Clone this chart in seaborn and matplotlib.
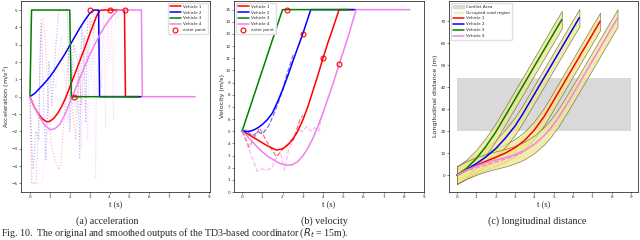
import matplotlib
matplotlib.use('Agg')
import matplotlib.pyplot as plt
import seaborn as sns
from matplotlib.patches import Patch
from matplotlib.lines import Line2D

sns.set_theme(style='white')
plt.rcParams['font.family'] = ['DejaVu Sans']

# ---------------- data ----------------
vehicles = ['Vehicle 1', 'Vehicle 2', 'Vehicle 3', 'Vehicle 4']
colors = ['red', 'blue', 'green', 'violet']

# (a) smoothed acceleration
acc_t1 = [0, 0.2, 0.4, 0.6, 0.84, 1.0, 1.2, 1.4, 1.6, 1.8, 2.0, 2.2, 2.4, 2.6, 2.8, 3.0, 3.2, 3.35, 3.5, 3.6, 4.75, 4.8, 5.5]
acc_a1 = [0, -0.55, -0.95, -1.25, -1.45, -1.42, -1.25, -0.95, -0.55, -0.05, 0.55, 1.15, 1.75, 2.35, 2.95, 3.6, 4.2, 4.65, 4.95, 5.0, 5.0, 0, 0]
acc_t2 = [0, 0.25, 0.5, 0.75, 1.0, 1.25, 1.5, 1.75, 2.0, 2.25, 2.5, 2.75, 3.0, 3.2, 3.45, 3.5, 5.6]
acc_a2 = [0, 0.2, 0.5, 0.8, 1.15, 1.55, 2.0, 2.45, 2.95, 3.45, 3.95, 4.4, 4.8, 5.0, 5.0, 0, 0]
acc_t3 = [0, 0.08, 2.0, 2.08, 2.2, 5.45]
acc_a3 = [0, 5.0, 5.0, -0.1, 0, 0]
acc_t4 = [0, 0.25, 0.5, 0.75, 1.0, 1.25, 1.5, 1.75, 2.0, 2.25, 2.5, 2.75, 3.0, 3.25, 3.5, 3.75, 4.0, 4.25, 4.45, 5.6, 5.65, 8.3]
acc_a4 = [0, -0.65, -1.2, -1.65, -1.9, -1.85, -1.6, -1.05, -0.35, 0.35, 1.05, 1.75, 2.4, 3.0, 3.55, 4.05, 4.45, 4.8, 5.0, 5.0, 0, 0]

# (a) original acceleration outputs
raw_t1 = [0, 0.05, 0.1, 0.3, 0.45, 0.55, 0.65, 0.75, 0.85, 0.95, 1.1, 1.3, 1.45, 1.55, 1.7, 1.85,
          1.95, 2.05, 2.15, 2.3, 2.45, 2.6, 2.75, 2.9, 3.05, 3.2, 3.35, 3.5]
raw_a1 = [0, -3, -5, -5, -1, 4.4, 4.5, 3.5, 1.5, -1, -3, -3.8, -4.2, -3.9, -1.5, 1,
          2.8, 2.5, -1, -2.5, 1.5, -0.5, 3.5, 2, 4.5, 3.8, 4.9, 5]
raw_t2 = [0, 0.1, 0.17, 0.3, 0.45, 0.5, 0.58, 0.7, 0.8, 0.85, 0.95, 1.0, 1.1, 1.3, 1.45, 1.55,
          1.7, 1.8, 1.9, 2.0, 2.2, 2.4, 2.5, 2.6, 2.7, 2.8, 2.9, 3.0]
raw_a2 = [0, -3, -4.2, -2, -2.5, 2, 4.2, -1, -3.7, -2, 2.0, 1.5, -0.5, 3, 5, 5,
          5, 5, 4.8, -2, 3, 2, -3.5, 4, 3, -1.5, 4.5, 5]
raw_t4 = [0, 0.1, 0.6, 0.7, 0.85, 1.0, 1.15, 1.3, 1.45, 1.6, 1.75, 1.9, 2.05, 2.2, 2.35, 2.5, 2.6,
          2.7, 2.8, 2.9, 3.0, 3.1, 3.2, 3.3, 3.4, 3.5, 3.6, 3.7, 3.8, 3.9, 4.0, 4.1, 4.2, 4.3, 4.4, 4.5]
raw_a4 = [0, -5, -5, -4, -1.5, 1.0, 1.3, 0.5, 2.5, 3.5, 1.0, -1.5, 0.5, 2.0, -1.0, 2.5, -3.0,
          3.5, 0.5, -2.5, 4.5, 1.0, 5.0, -4.7, 4.0, 5.0, 0.5, 5.0, -1.8, 5.0, 2.0, 5.0, -1.3, 5.0, 4.5, 5.0]

# enter points
enter_t = [2.2, 3.0, 4.0, 4.8]
enter_acc = [0, 5, 5, 5]
enter_vel = [15, 13, 11, 10.5]

# (b) smoothed velocity
vel_t1 = [0, 0.25, 0.5, 0.75, 1.0, 1.25, 1.5, 1.7, 2.0, 2.25, 2.5, 2.75, 3.0, 3.25, 3.5, 3.75, 4.0, 4.25, 4.5, 4.8, 5.5]
vel_v1 = [5, 4.8, 4.55, 4.3, 4.05, 3.8, 3.6, 3.45, 3.55, 3.85, 4.3, 5.0, 5.9, 7.0, 8.3, 9.6, 11.0, 12.3, 13.5, 15, 15]
vel_t2 = [0, 0.2, 0.4, 0.6, 0.8, 1.0, 1.25, 1.5, 1.75, 2.0, 2.25, 2.5, 2.75, 3.0, 3.2, 3.4, 5.6]
vel_v2 = [5, 4.97, 5.0, 5.12, 5.3, 5.55, 5.95, 6.5, 7.4, 8.4, 9.5, 10.7, 11.85, 13.0, 14.0, 15, 15]
vel_t3 = [0, 2.0, 5.3]
vel_v3 = [5, 15, 15]
vel_t4 = [0, 0.25, 0.5, 0.75, 1.0, 1.25, 1.5, 1.75, 2.0, 2.2, 2.5, 2.75, 3.0, 3.25, 3.5, 3.75, 4.0, 4.25, 4.5, 4.8, 5.0, 5.25, 5.5, 5.65, 8.3]
vel_v4 = [5, 4.6, 4.15, 3.7, 3.3, 2.95, 2.7, 2.45, 2.28, 2.2, 2.25, 2.5, 2.95, 3.6, 4.4, 5.4, 6.5, 7.7, 8.9, 10.5, 11.5, 12.8, 14.2, 15, 15]

# (b) original velocity outputs
rvel_t1 = [0, 0.35, 0.87, 1.2, 1.7, 2.1, 2.3, 2.6, 2.85, 3.0]
rvel_v1 = [5, 3.7, 5.25, 4.2, 2.9, 3.7, 4.0, 4.6, 5.9, 6.3]
rvel_t2 = [0, 0.2, 0.5, 0.8, 1.0, 1.3, 1.6, 1.8, 2.0, 2.2, 2.4, 2.55]
rvel_v2 = [5, 5.1, 4.6, 4.95, 4.75, 5.4, 6.5, 7.4, 8.3, 9.6, 10.6, 11.4]
rvel_t4 = [0, 0.75, 1.0, 1.2, 1.5, 1.6, 1.9, 2.1, 2.3, 2.8, 3.0, 3.2, 3.4, 3.6, 3.8, 3.9, 4.1]
rvel_v4 = [5, 1.7, 1.9, 1.8, 2.0, 2.6, 3.3, 1.8, 3.5, 5.1, 5.0, 5.4, 5.0, 5.3, 5.0, 6.0, 7.0]

# (c) longitudinal distance
dist_t1 = [0, 0.5, 1, 1.5, 2, 2.5, 3, 3.5, 4, 4.5, 4.8, 5, 5.5, 6, 6.5, 7, 7.4]
dist_d1 = [0, 2.3, 4.4, 6.3, 8.1, 10.0, 12.5, 15.8, 20.5, 26.6, 31, 34, 41.5, 49, 56.5, 64, 70]
dist_t2 = [0, 0.5, 1, 1.5, 2, 2.5, 3, 3.4, 4, 4.5, 5, 5.5, 6, 6.33]
dist_d2 = [0, 2.5, 5.2, 8.3, 12, 16.8, 22.3, 27.8, 36.8, 44.3, 51.8, 59.3, 66.8, 71.7]
dist_t3 = [0, 0.5, 1, 1.5, 2, 2.5, 3, 3.5, 4, 4.5, 5, 5.42]
dist_d3 = [0, 3.1, 7.5, 13.1, 19.5, 27, 34.5, 42, 49.5, 57, 64.5, 70.8]
dist_t4 = [0, 0.5, 1, 1.5, 2, 2.5, 3, 3.5, 4, 4.5, 4.8, 5.2, 5.65, 6, 6.5, 7, 7.5, 8, 8.3]
dist_d4 = [0, 2.3, 4.1, 5.6, 6.8, 7.9, 9.3, 11.2, 14.0, 17.9, 20.8, 25.5, 31.8, 37, 44.5, 52, 59.5, 67, 71.5]
rdist_t4 = [0, 0.5, 1, 1.5, 2, 2.5, 3, 3.4]
rdist_d4 = [0, 2.0, 3.4, 4.6, 5.9, 7.3, 8.9, 10.3]
band_half = 4.0
conflict_t = [0, 9]
conflict_lo = 20
conflict_hi = 44

acc_sets = [(acc_t1, acc_a1), (acc_t2, acc_a2), (acc_t3, acc_a3), (acc_t4, acc_a4)]
raw_acc_sets = [(raw_t1, raw_a1, 'red'), (raw_t2, raw_a2, 'blue'), (raw_t4, raw_a4, 'violet')]
vel_sets = [(vel_t1, vel_v1), (vel_t2, vel_v2), (vel_t3, vel_v3), (vel_t4, vel_v4)]
raw_vel_sets = [(rvel_t1, rvel_v1, 'red'), (rvel_t2, rvel_v2, 'blue'), (rvel_t4, rvel_v4, 'violet')]
dist_sets = [(dist_t1, dist_d1), (dist_t2, dist_d2), (dist_t3, dist_d3), (dist_t4, dist_d4)]

# ---------------- figure ----------------
fig = plt.figure(figsize=(6.4, 2.4), dpi=100)
W, H = 640, 240
def box(l, r, t, b):
    return [l / W, 1 - b / H, (r - l) / W, (b - t) / H]

axA = fig.add_axes(box(21, 210, 0.5, 192))
axB = fig.add_axes(box(234, 424, 0.5, 192))
axC = fig.add_axes(box(449, 638, 0.5, 192))

LW = 1.1
serif = ['Liberation Serif', 'DejaVu Serif']

# ---- (a)
for t, a, c in raw_acc_sets:
    sns.lineplot(x=t, y=a, ax=axA, color=c, lw=0.8, linestyle=':', alpha=0.3,
                 estimator=None, sort=False)
for (t, a), c in zip(acc_sets, colors):
    sns.lineplot(x=t, y=a, ax=axA, color=c, lw=LW, estimator=None, sort=False)
axA.plot(enter_t, enter_acc, 'o', mfc='none', mec='red', ms=3.5, mew=0.8)
axA.set_xlim(-0.45, 9.05)
axA.set_ylim(-5.5, 5.55)
axA.set_xticks(range(10))
axA.set_yticks(range(-5, 6))
axA.set_ylabel('Acceleration (m/$s^2$)', fontsize=4.6)
axA.yaxis.set_label_coords(-0.045, 0.5)

# ---- (b)
for t, v, c in raw_vel_sets:
    sns.lineplot(x=t, y=v, ax=axB, color=c, lw=0.9, linestyle='--', alpha=0.55,
                 estimator=None, sort=False)
for (t, v), c in zip(vel_sets, colors):
    sns.lineplot(x=t, y=v, ax=axB, color=c, lw=LW, estimator=None, sort=False)
axB.plot(enter_t, enter_vel, 'o', mfc='none', mec='red', ms=3.5, mew=0.8)
axB.set_xlim(-0.4, 9.0)
axB.set_ylim(0, 15.75)
axB.set_xticks(range(10))
axB.set_yticks(range(16))
axB.set_ylabel('Velocity (m/s)', fontsize=4.6)
axB.yaxis.set_label_coords(-0.045, 0.5)

# ---- (c)
axC.fill_between(conflict_t, conflict_lo, conflict_hi, color='#d9d9d9', lw=0, zorder=0)
for t, d in dist_sets:
    lo = [x - band_half for x in d]
    hi = [x + band_half for x in d]
    axC.fill_between(t, lo, hi, facecolor='#f0e68c', edgecolor='#5a5a3a', alpha=0.75, lw=0.5, zorder=1)
sns.lineplot(x=rdist_t4, y=rdist_d4, ax=axC, color='violet', lw=0.9, linestyle='--',
             estimator=None, sort=False, zorder=2)
for (t, d), c in zip(dist_sets, colors):
    sns.lineplot(x=t, y=d, ax=axC, color=c, lw=LW, estimator=None, sort=False, zorder=3)
axC.set_xlim(-0.41, 9.36)
axC.set_ylim(-7.7, 79.5)
axC.set_xticks(range(10))
axC.set_yticks(range(0, 71, 10))
axC.set_ylabel('Longitudinal distance (m)', fontsize=4.6)
axC.yaxis.set_label_coords(-0.056, 0.5)

for ax in (axA, axB, axC):
    ax.set_xlabel('t (s)', fontsize=6, family=serif, labelpad=1)
    ax.tick_params(labelsize=3, length=1.5, width=0.4, pad=1, bottom=True, left=True)
    for s in ax.spines.values():
        s.set_color('#333333')
        s.set_linewidth(0.6)

veh_handles = [Line2D([], [], color=c, lw=LW) for c in colors]
enter_handle = Line2D([], [], marker='o', ls='none', mfc='none', mec='red', ms=3.5, mew=0.8)
leg_kw = dict(fontsize=3, frameon=True, handlelength=2.5, borderpad=0.5, labelspacing=0.45,
              handletextpad=0.6, framealpha=0.9, edgecolor='#dddddd')
axA.legend(veh_handles + [enter_handle], vehicles + ['enter point'], loc='upper right', **leg_kw)
axB.legend(veh_handles + [enter_handle], vehicles + ['enter point'], loc='upper left', **leg_kw)
axC.legend([Patch(color='#d9d9d9'), Patch(facecolor='#f0e68c', alpha=0.75)] + veh_handles,
           ['Conflict Area', 'Occupied road region'] + vehicles, loc='upper left', **leg_kw)

fig.text(107 / W, 1 - 221 / H, '(a) acceleration', fontsize=7.2, family=serif, ha='center', va='center')
fig.text(324 / W, 1 - 221 / H, '(b) velocity', fontsize=7.2, family=serif, ha='center', va='center')
fig.text(537 / W, 1 - 221 / H, '(c) longitudinal distance', fontsize=7.2, family=serif, ha='center', va='center')
fig.text(1 / W, 1 - 233 / H, 'Fig. 10.  The original and smoothed outputs of the TD3-based coordinator ($R_t$ = 15m).',
         fontsize=7.2, family=serif, ha='left', va='center')

fig.savefig('out.png', dpi=100)
